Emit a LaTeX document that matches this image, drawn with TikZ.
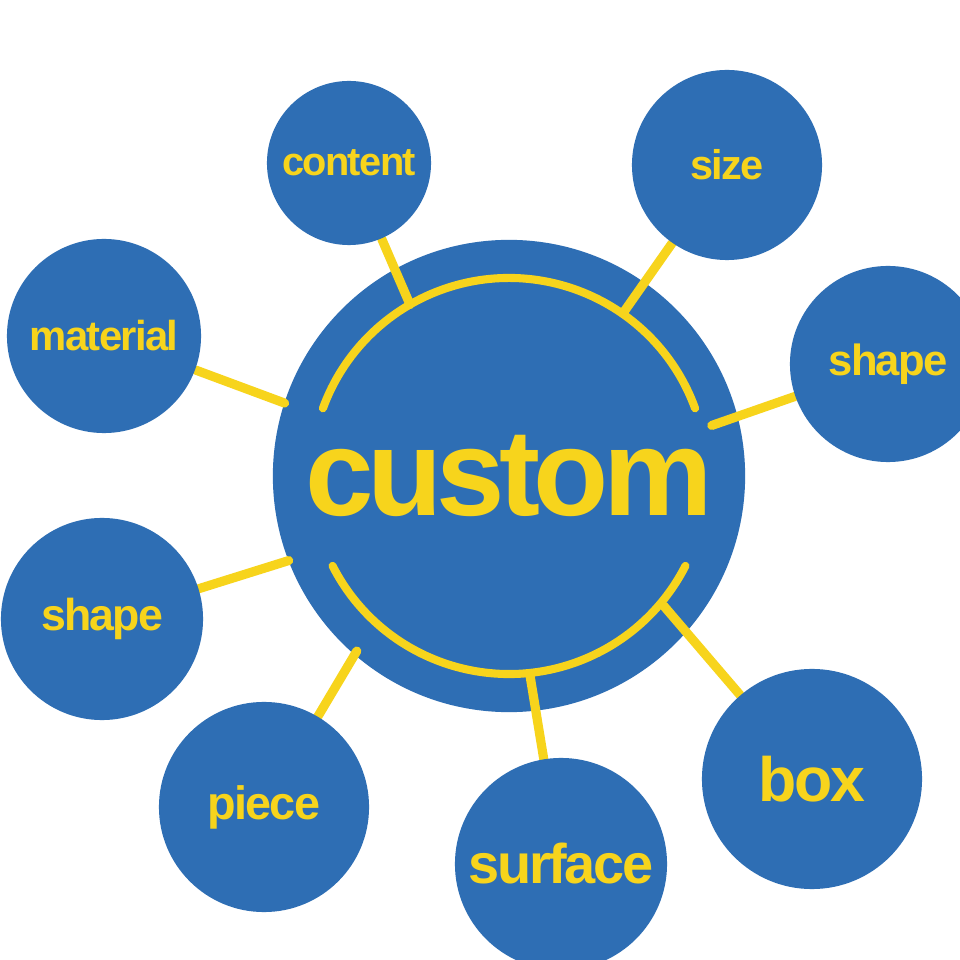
\documentclass[tikz,border=0pt]{standalone}
\usepackage{fontspec}
\usepackage{tikz}
\usetikzlibrary{calc}
\newfontfamily\topicfont{Liberation Sans}[LetterSpace=-4]
\newfontfamily\hubfont{Liberation Sans}[LetterSpace=-5]
\newcommand{\topicsize}[1]{\fontsize{#1}{#1}\selectfont}
\definecolor{hubblue}{RGB}{46,110,180}
\definecolor{linkyellow}{RGB}{247,212,28}
\pgfdeclarelayer{base}
\pgfdeclarelayer{links}
\pgfsetlayers{base,links,main}

\begin{document}
\begin{tikzpicture}[
  x=0.01cm, y=0.01cm,
  hub/.style={circle, fill=hubblue, inner sep=0pt, minimum size=4.72cm, text=linkyellow, font=\hubfont\bfseries\topicsize{35pt}},
  topic/.style={circle, fill=hubblue, inner sep=0pt, text=linkyellow, font=\topicfont\bfseries},
  ring/.style={draw=linkyellow, line width=2.3pt, line cap=round},
  link/.style={draw=linkyellow, line width=2.6pt, line cap=round}
]
  \clip (0,0) rectangle (960,960);

  \begin{pgfonlayer}{base}
    \fill[white] (0,0) rectangle (960,960);
    \node[hub] (custom) at (509,484) {custom};
    \draw[ring] ($(custom.center)+(20:198)$) arc[start angle=20, end angle=160, radius=198];
    \draw[ring] ($(custom.center)+(207:198)$) arc[start angle=207, end angle=333, radius=198];
  \end{pgfonlayer}

  \node[topic, minimum size=1.64cm, font=\topicfont\bfseries\topicsize{11.3pt}] (content) at (349,797) {content};
  \node[topic, minimum size=1.90cm, font=\topicfont\bfseries\topicsize{11.8pt}] (size) at (727,795) {size};
  \node[topic, minimum size=1.94cm, font=\topicfont\bfseries\topicsize{11.9pt}] (material) at (104,624) {material};
  \node[topic, minimum size=1.96cm, font=\topicfont\bfseries\topicsize{12.4pt}] (shapeR) at (888,596) {shape};
  \node[topic, minimum size=2.02cm, font=\topicfont\bfseries\topicsize{12.7pt}] (shapeL) at (102,341) {shape};
  \node[topic, minimum size=2.10cm, font=\topicfont\bfseries\topicsize{13.3pt}] (piece) at (264,153) {piece};
  \node[topic, minimum size=2.12cm, font=\topicfont\bfseries\topicsize{15.9pt}] (surface) at (561,96) {surface};
  \node[topic, minimum size=2.20cm, font=\topicfont\bfseries\topicsize{17.8pt}] (box) at (812,181) {box};

  \coordinate (content-end) at ($(custom.center)+(120:198)$);
  \coordinate (size-end) at ($(custom.center)+(55:202)$);
  \coordinate (material-end) at ($(custom.center)+(162:236)$);
  \coordinate (shapeR-end) at ($(custom.center)+(14:209)$);
  \coordinate (shapeL-end) at ($(custom.center)+(201:236)$);
  \coordinate (piece-end) at ($(custom.center)+(229:232)$);
  \coordinate (surface-end) at ($(custom.center)+(276:200)$);
  \coordinate (box-end) at ($(custom.center)+(320:202)$);

  \begin{pgfonlayer}{links}
    \draw[link] (content) -- (content-end);
    \draw[link] (size) -- (size-end);
    \draw[link] (material) -- (material-end);
    \draw[link] (shapeR) -- (shapeR-end);
    \draw[link] (shapeL) -- (shapeL-end);
    \draw[link] (piece) -- (piece-end);
    \draw[link] (surface) -- (surface-end);
    \draw[link] (box) -- (box-end);
  \end{pgfonlayer}
\end{tikzpicture}
\end{document}
